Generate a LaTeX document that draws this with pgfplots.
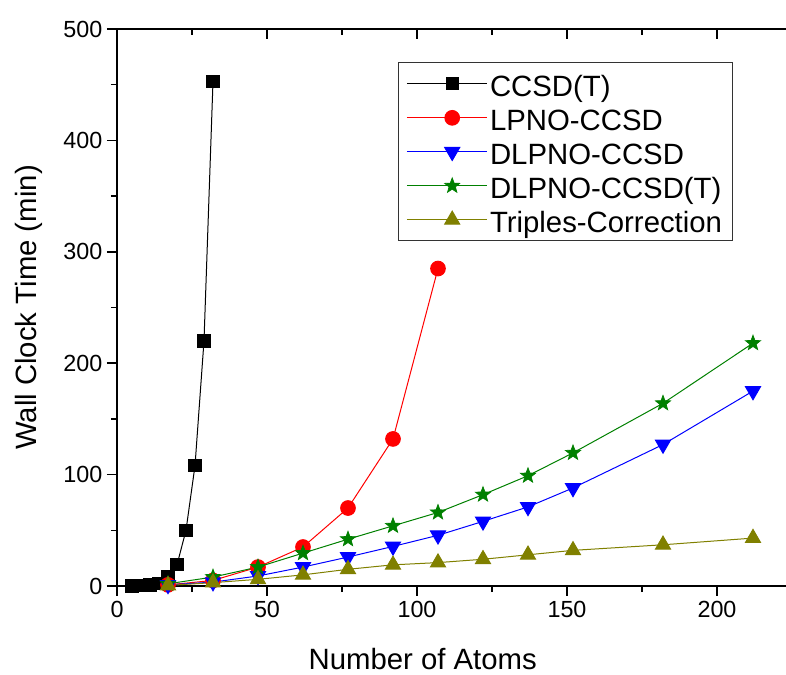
\documentclass[border=0pt]{standalone}
\usepackage{pgfplots}
\pgfplotsset{compat=1.18}
\usepackage{fontspec}
\setmainfont{Liberation Sans}
\definecolor{cgreen}{RGB}{0,128,0}
\definecolor{colive}{RGB}{128,128,0}
\pgfdeclareplotmark{fstar}{%
  \pgfpathmoveto{\pgfpointpolar{90}{\pgfplotmarksize}}%
  \pgfpathlineto{\pgfpointpolar{126}{0.42\pgfplotmarksize}}%
  \pgfpathlineto{\pgfpointpolar{162}{\pgfplotmarksize}}%
  \pgfpathlineto{\pgfpointpolar{198}{0.42\pgfplotmarksize}}%
  \pgfpathlineto{\pgfpointpolar{234}{\pgfplotmarksize}}%
  \pgfpathlineto{\pgfpointpolar{270}{0.42\pgfplotmarksize}}%
  \pgfpathlineto{\pgfpointpolar{306}{\pgfplotmarksize}}%
  \pgfpathlineto{\pgfpointpolar{342}{0.42\pgfplotmarksize}}%
  \pgfpathlineto{\pgfpointpolar{18}{\pgfplotmarksize}}%
  \pgfpathlineto{\pgfpointpolar{54}{0.42\pgfplotmarksize}}%
  \pgfpathclose
  \pgfusepathqfillstroke}
\begin{document}
\begin{tikzpicture}
\begin{axis}[
  name=ax,
  scale only axis,
  width=501.75pt, height=417.75pt,
  xmin=0, xmax=223, ymin=0, ymax=500,
  axis x line*=bottom, axis y line*=left,
  axis line style={line width=1.3pt},
  xtick={0,50,...,200}, ytick={0,100,...,500},
  minor x tick num=1, minor y tick num=1,
  tick align=outside,
  major tick length=7.5pt, minor tick length=4.5pt,
  tick style={line width=1.1pt, black},
  /pgf/number format/assume math mode=true,
  ticklabel style={font=\fontsize{17.5}{21}\selectfont},
  xlabel={Number of Atoms}, ylabel={Wall Clock Time (min)},
  every axis x label/.style={at={(axis description cs:0.457,0)}, yshift=-62.5pt, anchor=base, inner sep=0pt, font=\fontsize{22}{26}\selectfont},
  every axis y label/.style={at={(axis description cs:0,0.5)}, xshift=-60pt, anchor=base, inner sep=0pt, rotate=90, font=\fontsize{22}{26}\selectfont},
  clip=false,
  legend style={at={(0.42,0.94)}, anchor=north west, draw=black!80, line width=0.6pt,
    font=\fontsize{22}{26}\selectfont, inner xsep=6pt, inner ysep=3pt,
    row sep=0pt, cells={anchor=west, text height=20pt, text depth=3.5pt}},
  legend image code/.code={\path (0pt,0pt) -- (60pt,0pt);
    \draw[mark repeat=2,mark phase=2] plot coordinates {(10pt,0pt) (34pt,0pt) (58pt,0pt)};},
]
\addplot[black, line width=0.75pt, mark=square*, mark size=4.6pt, mark options={solid, fill=black}]
 coordinates {(5,0.1)(8,0.3)(11,0.8)(14,2.5)(17,8)(20,19)(23,50)(26,108)(29,220)(32,453)};
\addlegendentry{CCSD(T)}
\addplot[red, line width=0.75pt, mark=*, mark size=5.5pt, mark options={solid, fill=red}]
 coordinates {(17,1)(32,5)(47,17)(62,35)(77,70)(92,132)(107,285)};
\addlegendentry{LPNO-CCSD}
\addplot[blue, line width=0.75pt, mark=triangle*, mark size=6.5pt, mark options={solid, fill=blue, rotate=180}]
 coordinates {(17,1)(32,3.5)(47,9)(62,17)(77,26)(92,35.5)(107,45.5)(122,58)(137,71)(152,88)(182,127)(212,175)};
\addlegendentry{DLPNO-CCSD}
\addplot[cgreen, line width=0.75pt, mark=fstar, mark size=6pt, mark options={solid, fill=cgreen, line width=0.5pt}]
 coordinates {(17,2)(32,8)(47,17)(62,29.5)(77,42)(92,54)(107,66)(122,82)(137,99)(152,119.5)(182,164)(212,218)};
\addlegendentry{DLPNO-CCSD(T)}
\addplot[colive, line width=0.75pt, mark=triangle*, mark size=6.5pt, mark options={solid, fill=colive}]
 coordinates {(17,0.5)(32,3)(47,6)(62,10)(77,15)(92,19)(107,21)(122,24)(137,28)(152,32)(182,37)(212,43)};
\addlegendentry{Triples-Correction}
\end{axis}
\begin{axis}[
  scale only axis,
  width=501.75pt, height=417.75pt,
  xmin=0, xmax=223, ymin=0, ymax=500,
  axis x line*=top, axis y line=none,
  axis line style={line width=1.3pt},
  xtick={0,50,...,200}, minor x tick num=1,
  xticklabels={},
  tick align=inside,
  major tick length=7.5pt, minor tick length=4.5pt,
  tick style={line width=1.1pt, black},
]
\end{axis}
\pgfresetboundingbox
\path[use as bounding box] ([xshift=-87.75pt,yshift=-66.75pt]ax.south west) rectangle ([yshift=21.75pt]ax.north east);
\end{tikzpicture}
\end{document}
